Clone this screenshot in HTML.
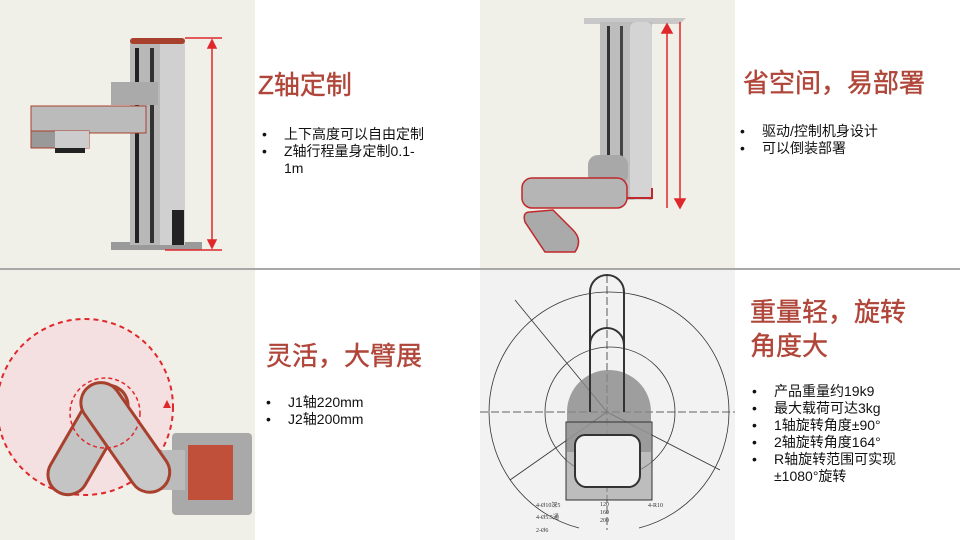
<!DOCTYPE html>
<html><head><meta charset="utf-8"><style>
body{margin:0;width:960px;height:540px;overflow:hidden;background:#fff;font-family:"Liberation Sans","Noto Sans CJK SC",sans-serif;position:relative}
.t{position:absolute;color:#b0463a;font-size:26px;font-weight:normal;-webkit-text-stroke:0.4px #b0463a;line-height:34px;white-space:nowrap}
ul{position:absolute;margin:0;padding:0;list-style:none;font-size:14px;line-height:17px;color:#111}
li{position:relative;padding-left:22px}
li:before{content:"•";position:absolute;left:0}
</style></head><body>
<svg width="960" height="540" style="position:absolute;left:0;top:0">
<rect x="0" y="0" width="255" height="268" fill="#f1f0e8"/>
<rect x="480" y="0" width="255" height="268" fill="#f1f0e8"/>
<rect x="0" y="270" width="255" height="270" fill="#f1f0e8"/>
<rect x="480" y="270" width="255" height="270" fill="#f2f2f2"/>
<rect x="0" y="268" width="960" height="2" fill="#a8a8a8"/>
<rect x="111" y="242" width="91" height="8" fill="#9a9a9a"/>
<rect x="130" y="40" width="55" height="205" fill="#b8b8b8"/>
<rect x="160" y="40" width="25" height="205" fill="#d0d0d0"/>
<rect x="135" y="48" width="4" height="195" fill="#222"/><rect x="150" y="48" width="4" height="195" fill="#333"/>
<rect x="130" y="38" width="55" height="6" rx="3" fill="#a8402e"/>
<rect x="172" y="210" width="12" height="35" fill="#222"/>
<rect x="111" y="82" width="47" height="23" fill="#aaa"/>
<rect x="31" y="106" width="115" height="27" fill="#bbb" stroke="#a8402e" stroke-width="1"/>
<rect x="31" y="131" width="58" height="17" fill="#999" stroke="#a8402e" stroke-width="1"/>
<rect x="55" y="131" width="34" height="17" fill="#ccc"/>
<rect x="55" y="148" width="30" height="5" fill="#222"/>
<g stroke="#e0282c" stroke-width="1.5" fill="#e0282c">
<line x1="185" y1="38" x2="222" y2="38"/><line x1="165" y1="250" x2="222" y2="250"/>
<line x1="212" y1="44" x2="212" y2="244"/><path d="M212 40l-4 8h8z M212 248l-4-8h8z"/></g>
<path d="M584 18h102l-6 6h-96z" fill="#c8c8c8"/>
<rect x="600" y="22" width="52" height="178" fill="#bdbdbd"/>
<rect x="630" y="22" width="22" height="178" rx="6" fill="#d4d4d4"/>
<rect x="607" y="26" width="3" height="165" fill="#333"/><rect x="620" y="26" width="3" height="165" fill="#444"/>
<path d="M623 198h29v-10" stroke="#c0282c" stroke-width="2" fill="none"/>
<rect x="588" y="155" width="40" height="30" rx="10" fill="#a8a8a8"/>
<rect x="522" y="178" width="105" height="30" rx="10" fill="#b5b5b5" stroke="#c0282c" stroke-width="1.5"/>
<path d="M530 212q-8 0-5 10l20 30h30q8-12-2-22l-20-20z" fill="#aaa" stroke="#c0282c" stroke-width="1.5"/>
<g stroke="#e0282c" stroke-width="1.5" fill="#e0282c">
<line x1="667" y1="28" x2="667" y2="208"/><path d="M667 24l-5 9h10z"/>
<line x1="680" y1="22" x2="680" y2="202"/><path d="M680 208l-5-9h10z"/></g>
<circle cx="85" cy="407" r="88" fill="#f4e0e0" stroke="#e0282c" stroke-width="2" stroke-dasharray="5 4"/>
<path d="M167 400l4 8h-8z" fill="#e0282c"/>
<rect x="172" y="433" width="80" height="82" rx="4" fill="#a9a9a9"/>
<path d="M188 445h45v55h-45z" fill="#c1503a" rx="4"/>
<path d="M140 465q0-15 30-15h15v40h-35z" fill="#bbb"/>
<rect x="68" y="380" width="40" height="120" rx="20" fill="#c4c4c4" stroke="#a8402e" stroke-width="3" transform="rotate(30 88 440)"/>
<rect x="105" y="375" width="40" height="125" rx="20" fill="#c8c8c8" stroke="#a8402e" stroke-width="3" transform="rotate(-35 125 437)"/>
<circle cx="105" cy="413" r="35" fill="none" stroke="#e0282c" stroke-width="1.5" stroke-dasharray="4 3"/>
<g fill="none" stroke="#333" stroke-width="0.8">
<path d="M489 412a120 120 0 0 1 240 0"/>
<path d="M489 412a120 120 0 0 0 90 116"/><path d="M729 412a120 120 0 0 1 -90 116"/>
<path d="M545 412a65 65 0 0 1 130 0"/>
<path d="M545 412a65 65 0 0 0 40 60"/><path d="M675 412a65 65 0 0 1 -40 60"/>
<line x1="480" y1="412" x2="735" y2="412" stroke-dasharray="8 3"/>
<line x1="607" y1="275" x2="607" y2="530" stroke-dasharray="8 3"/>
<line x1="515" y1="300" x2="607" y2="412"/><line x1="607" y1="412" x2="720" y2="470"/><line x1="607" y1="412" x2="510" y2="480"/>
</g>
<path d="M567 412a42 42 0 0 1 84 0v40h-84z" fill="#888" opacity=".8"/>
<rect x="566" y="422" width="86" height="78" fill="#999" opacity=".6"/>
<g fill="none" stroke="#333" stroke-width="2">
<path d="M590 412V292a17 17 0 0 1 34 0V412"/>
<path d="M590 345a17 17 0 0 1 34 0"/>
<path d="M585 435h45a10 10 0 0 1 10 10v30a12 12 0 0 1 -10 12h-45a12 12 0 0 1 -10 -12v-30a10 10 0 0 1 10 -10z" fill="#f2f2f2"/>
</g>
<rect x="566" y="422" width="86" height="78" fill="none" stroke="#333"/>
<g font-size="6" fill="#333" font-family="Liberation Serif"><text x="536" y="507">4-Ø10深5</text><text x="536" y="519">4-Ø5.5通</text><text x="536" y="532">2-Ø6</text><text x="648" y="507">4-R10</text><text x="600" y="506">120</text><text x="600" y="514">160</text><text x="600" y="522">200</text></g>
</svg>
<div class="t" style="left:258px;top:68px">Z轴定制</div>
<ul style="left:262px;top:126px;width:210px"><li>上下高度可以自由定制</li><li>Z轴行程量身定制0.1-<br>1m</li></ul>
<div class="t" style="left:743px;top:66px">省空间，易部署</div>
<ul style="left:740px;top:123px"><li>驱动/控制机身设计</li><li>可以倒装部署</li></ul>
<div class="t" style="left:266px;top:339px">灵活，大臂展</div>
<ul style="left:266px;top:394px"><li>J1轴220mm</li><li>J2轴200mm</li></ul>
<div class="t" style="left:750px;top:295px">重量轻，旋转<br>角度大</div>
<ul style="left:752px;top:383px"><li>产品重量约19k9</li><li>最大载荷可达3kg</li><li>1轴旋转角度±90°</li><li>2轴旋转角度164°</li><li>R轴旋转范围可实现<br>±1080°旋转</li></ul>
</body></html>
